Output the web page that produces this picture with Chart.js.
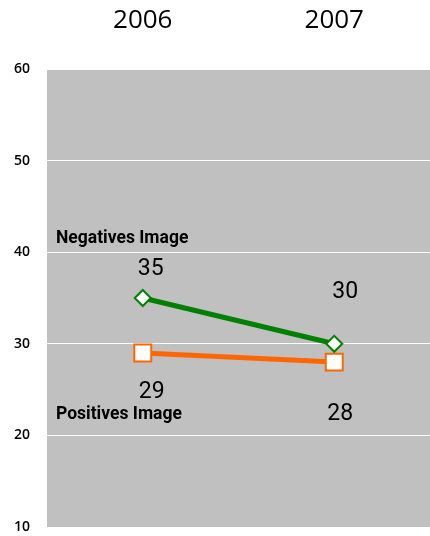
<!DOCTYPE html>
<html>
<head>
<meta charset="utf-8">
<script src="https://cdn.jsdelivr.net/npm/chart.js@4"></script>
<style>
  html, body { margin: 0; padding: 0; background: #fff; }
</style>
</head>
<body>
<canvas id="chart" width="430" height="536"></canvas>
<script>
const years = ["2006", "2007"];
const negativesValues = [35, 30];
const positivesValues = [29, 28];
const seriesNames = ["Negatives Image", "Positives Image"];
const yTicks = [10, 20, 30, 40, 50, 60];

/* label placement (pixels from the point) */
const valueLabelOffsets = [
    [[8, -29], [11, -52]],
    [[9, 39], [6, 52]]
];
const seriesLabelOffsets = [-59, 62];

const plotBackground = {
    id: "plotBackground",
    beforeDraw(chart) {
        const { ctx, chartArea } = chart;
        ctx.save();
        ctx.fillStyle = "#c0c0c0";
        ctx.fillRect(chartArea.left, chartArea.top,
            chartArea.right - chartArea.left, chartArea.bottom - chartArea.top);
        ctx.restore();
    }
};

const pointLabels = {
    id: "pointLabels",
    afterDatasetsDraw(chart) {
        const { ctx, chartArea } = chart;
        ctx.save();
        ctx.fillStyle = "#000";
        chart.data.datasets.forEach((ds, i) => {
            const meta = chart.getDatasetMeta(i);
            ctx.font = "23px Roboto, sans-serif";
            ctx.textAlign = "center";
            ctx.textBaseline = "middle";
            meta.data.forEach((pt, j) => {
                const off = valueLabelOffsets[i][j];
                ctx.fillText(String(ds.data[j]), pt.x + off[0], pt.y + off[1]);
            });
            ctx.font = "bold 17.5px Roboto, sans-serif";
            ctx.textAlign = "left";
            ctx.fillText(ds.label, chartArea.left + 9, meta.data[0].y + seriesLabelOffsets[i]);
        });
        ctx.restore();
    }
};

function noPadding(scale) {
    scale.paddingLeft = 0;
    scale.paddingRight = 0;
    scale.paddingTop = 0;
    scale.paddingBottom = 0;
}

new Chart(document.querySelector("#chart"), {
    type: "line",
    data: {
        labels: years,
        datasets: [
            {
                label: seriesNames[0],
                data: negativesValues,
                borderColor: "#008000",
                borderWidth: 5,
                pointStyle: "rectRot",
                pointRadius: 8,
                pointBackgroundColor: "#fff",
                pointBorderColor: "#008000",
                pointBorderWidth: 2,
                clip: false
            },
            {
                label: seriesNames[1],
                data: positivesValues,
                borderColor: "#ff6600",
                borderWidth: 5,
                pointStyle: "rect",
                pointRadius: 12,
                pointBackgroundColor: "#fff",
                pointBorderColor: "#ff6600",
                pointBorderWidth: 2,
                clip: false
            }
        ]
    },
    options: {
        responsive: false,
        animation: false,
        layout: {
            autoPadding: false,
            padding: { top: 0, right: 0, bottom: 9, left: 0 }
        },
        plugins: {
            legend: { display: false },
            tooltip: { enabled: false }
        },
        scales: {
            x: {
                position: "top",
                offset: true,
                grid: { display: false, drawTicks: false },
                border: { display: false },
                ticks: {
                    padding: 33,
                    color: "#000",
                    font: { family: "'Open Sans'", size: 26, weight: 500 }
                },
                afterFit(scale) {
                    scale.height = 69;
                    noPadding(scale);
                }
            },
            y: {
                min: 10,
                max: 60,
                grid: { color: "#fff", lineWidth: 1, drawTicks: false },
                border: { display: false },
                ticks: {
                    padding: 17,
                    color: "#000",
                    font: { family: "'Open Sans'", size: 14, weight: 600 }
                },
                afterBuildTicks(scale) {
                    scale.ticks = yTicks.map(v => ({ value: v }));
                },
                afterFit(scale) {
                    scale.width = 47;
                    noPadding(scale);
                }
            }
        }
    },
    plugins: [plotBackground, pointLabels]
});
</script>
</body>
</html>
